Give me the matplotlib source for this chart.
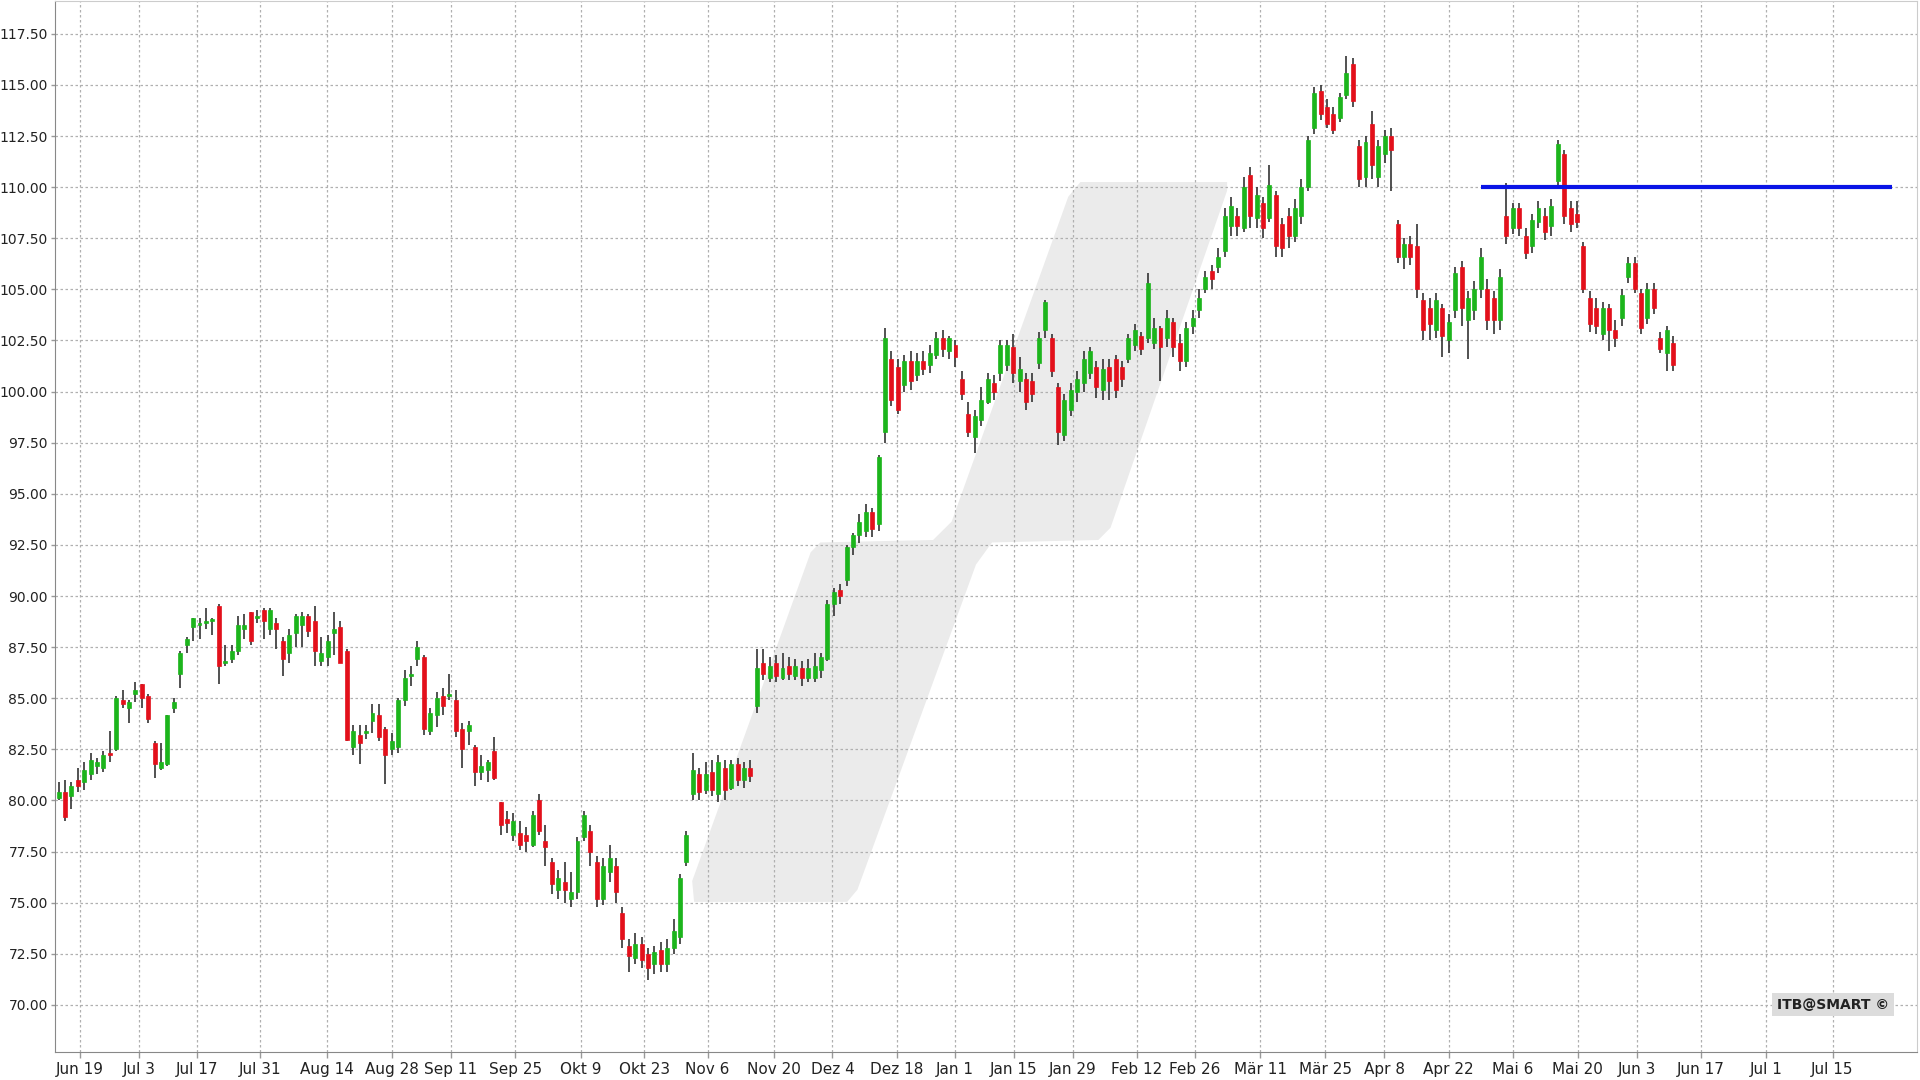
import matplotlib
matplotlib.use("Agg")
import matplotlib.pyplot as plt
from matplotlib.patches import Polygon

# daily candles (trading-day index 0..n-1)
opens = [80.1, 80.4, 80.2, 81.0, 80.9, 81.3, 81.7, 81.6, 82.3, 82.5,
         84.9, 84.5, 85.2, 85.7, 85.1, 82.8, 81.6, 81.8, 84.5, 86.2,
         87.6, 88.5, 88.6, 88.7, 88.8, 89.5, 86.7, 86.9, 87.3, 88.4,
         89.2, 88.9, 89.3, 88.4, 88.7, 87.8, 87.2, 88.2, 88.6, 89.0,
         88.8, 86.8, 87.0, 88.2, 88.5, 87.3, 82.6, 83.2, 83.3, 83.9,
         84.2, 83.5, 82.5, 82.6, 84.9, 86.1, 86.9, 87.0, 83.4, 84.2,
         85.1, 85.1, 84.9, 83.5, 83.4, 82.6, 81.4, 81.5, 82.4, 79.9,
         79.1, 78.3, 78.4, 78.3, 77.8, 80.0, 78.0, 77.0, 75.6, 76.0,
         75.2, 75.5, 78.2, 78.5, 77.0, 75.2, 76.5, 76.8, 74.5, 72.9,
         72.3, 73.0, 72.5, 72.0, 72.7, 72.0, 72.8, 73.3, 77.0, 80.3,
         81.3, 80.5, 81.4, 80.3, 81.6, 80.6, 81.8, 81.0, 81.6,
         84.6, 86.7, 86.0, 86.7,
         86.0, 86.6, 86.1, 86.5, 86.0, 86.0, 86.4, 86.9, 89.6, 90.3, 90.8,
         92.4, 93.0, 93.2, 94.1, 93.5, 98.0, 101.6, 101.2, 100.3, 101.5,
         100.8, 101.5, 101.3, 101.8, 102.6, 102.0, 102.3, 100.6, 98.9, 97.8,
         98.6, 99.5, 100.4, 100.9, 101.3, 102.2, 100.5, 100.6, 100.5, 101.4,
         103.0, 102.6, 100.2, 97.9, 99.1, 100.0, 100.4, 100.9, 101.2, 100.1,
         101.2, 101.6, 101.2, 101.6, 102.3, 102.7, 102.6, 102.4, 103.1, 102.6,
         103.4, 102.4, 101.5, 103.2, 104.0, 105.0, 105.9, 106.1,
         106.9, 108.1, 108.6, 108.0, 110.6, 108.5, 109.2, 108.5, 109.6,
         108.2, 108.6, 107.6, 108.6, 110.0, 112.9, 114.7, 113.9, 113.6, 113.4,
         114.5, 116.0, 112.0, 110.5, 113.1, 110.5, 111.6, 112.5, 108.2, 106.6,
         107.2, 107.1, 104.5, 104.1, 103.0, 104.1, 102.5, 104.0, 106.1, 103.5,
         104.0, 105.0, 105.0, 104.6, 103.5, 108.6, 108.0, 109.0, 107.6, 107.1,
         108.3, 108.6, 108.1, 110.3, 111.6, 109.0, 108.7, 107.1, 104.6,
         104.1, 102.8, 104.1, 103.0, 103.6, 105.6, 106.3, 104.8, 103.6, 105.0,
         102.6, 101.9, 102.4]
closes = [80.4, 79.2, 80.7, 80.7, 81.5, 82.0, 81.9, 82.2, 82.2, 85.0,
          84.7, 84.8, 85.4, 85.0, 84.0, 81.8, 81.9, 84.2, 84.8, 87.2,
          87.9, 88.9, 88.7, 88.8, 88.8, 86.6, 86.8, 87.3, 88.6, 88.6,
          87.8, 89.0, 88.8, 89.3, 88.4, 86.9, 88.1, 89.0, 89.0, 88.3,
          87.3, 87.2, 87.8, 88.4, 86.7, 82.95, 83.4, 82.8, 83.4, 84.3,
          83.1, 82.2, 82.9, 84.9, 86.0, 86.2, 87.5, 83.5, 84.3, 85.0,
          84.6, 85.2, 83.4, 82.5, 83.7, 81.4, 81.7, 81.9, 81.1, 78.8,
          78.9, 79.0, 77.8, 78.0, 79.3, 78.5, 77.7, 75.9, 76.2, 75.6,
          75.5, 78.0, 79.3, 77.5, 75.2, 76.8, 77.2, 75.5, 73.2, 72.4,
          73.0, 72.2, 71.8, 72.6, 72.0, 72.8, 73.6, 76.2, 78.3, 81.5,
          80.4, 81.3, 80.5, 81.9, 80.5, 81.8, 81.0, 81.6, 81.2,
          86.5, 86.2, 86.6, 86.1,
          86.5, 86.2, 86.6, 86.0, 86.5, 86.6, 87.0, 89.6, 90.2, 90.0, 92.4,
          93.0, 93.6, 94.1, 93.3, 96.8, 102.6, 99.6, 99.1, 101.5, 100.5,
          101.5, 101.1, 101.9, 102.6, 102.1, 102.6, 101.7, 99.9, 98.0, 98.8,
          99.6, 100.6, 100.0, 102.3, 102.3, 100.9, 101.1, 99.5, 99.9, 102.6,
          104.4, 101.0, 98.0, 99.6, 100.1, 100.6, 101.6, 102.0, 100.2, 101.1,
          100.5, 100.1, 100.6, 102.6, 103.0, 102.1, 105.3, 103.1, 102.2, 103.6,
          102.2, 101.5, 103.1, 103.6, 104.6, 105.6, 105.5, 106.6,
          108.6, 109.1, 108.1, 110.0, 108.6, 109.6, 108.0, 110.1, 107.1,
          107.0, 107.6, 109.0, 110.0, 112.3, 114.6, 113.6, 113.1, 112.8, 114.4,
          115.6, 114.2, 110.4, 112.2, 111.1, 112.0, 112.5, 111.8, 106.6, 107.2,
          106.6, 105.0, 103.0, 103.3, 104.5, 102.7, 103.4, 105.8, 104.1, 104.6,
          105.0, 106.6, 103.5, 103.5, 105.6, 107.6, 109.0, 108.0, 106.8, 108.4,
          109.0, 107.8, 109.1, 112.1, 108.6, 108.2, 108.3, 105.0, 103.3,
          103.2, 104.1, 103.0, 102.6, 104.7, 106.3, 105.0, 103.1, 105.0, 104.1,
          102.1, 103.0, 101.3]
highs = [80.9, 81.0, 80.9, 81.6, 81.9, 82.3, 82.1, 82.4, 83.4, 85.1,
         85.4, 84.9, 85.8, 85.7, 85.2, 82.9, 82.8, 84.2, 85.0, 87.3,
         88.0, 88.9, 88.9, 89.4, 88.9, 89.6, 87.6, 87.6, 89.0, 89.1,
         89.2, 89.3, 89.4, 89.4, 88.9, 88.0, 88.4, 89.1, 89.2, 89.1,
         89.5, 88.0, 88.1, 89.2, 88.8, 87.4, 83.7, 83.7, 83.7, 84.7,
         84.7, 83.6, 83.3, 85.0, 86.4, 86.6, 87.8, 87.1, 84.5, 85.3,
         85.5, 86.2, 85.4, 83.8, 83.9, 82.7, 82.2, 82.0, 83.1, 79.9,
         79.5, 79.4, 79.0, 78.7, 79.5, 80.3, 78.8, 77.2, 76.6, 77.0,
         76.5, 78.2, 79.5, 78.8, 77.3, 77.2, 77.8, 77.2, 74.8, 73.2,
         73.5, 73.3, 72.8, 72.9, 73.1, 73.2, 74.2, 76.4, 78.5, 82.3,
         81.6, 81.9, 82.0, 82.2, 82.0, 82.0, 82.1, 81.9, 82.0,
         87.4, 87.4, 87.0, 87.1,
         87.2, 87.0, 86.9, 86.8, 86.9, 87.2, 87.2, 89.8, 90.4, 90.6, 92.5,
         93.1, 94.0, 94.5, 94.3, 96.9, 103.1, 102.0, 101.6, 101.8, 102.0,
         101.9, 102.0, 102.3, 102.9, 103.0, 102.7, 102.5, 101.0, 99.5, 99.1,
         100.2, 100.9, 100.8, 102.5, 102.5, 102.8, 101.7, 100.9, 100.9, 102.9,
         104.5, 102.8, 100.4, 99.9, 100.4, 101.0, 102.0, 102.2, 101.5, 101.6,
         101.6, 101.8, 101.5, 102.8, 103.3, 102.9, 105.8, 103.6, 103.2, 104.0,
         103.6, 102.8, 103.4, 104.0, 105.0, 105.9, 106.2, 107.0,
         109.0, 109.5, 109.0, 110.5, 111.0, 110.0, 109.5, 111.1, 109.8,
         108.5, 109.0, 109.4, 110.4, 112.5, 114.9, 115.0, 114.3, 113.9, 114.6,
         116.4, 116.3, 112.3, 112.5, 113.7, 112.3, 112.8, 112.9, 108.4, 107.5,
         107.6, 108.2, 104.8, 104.6, 104.8, 104.3, 103.8, 106.1, 106.4, 104.9,
         105.4, 107.0, 105.5, 104.9, 106.0, 110.2, 109.2, 109.2, 108.0, 108.7,
         109.3, 109.0, 109.4, 112.3, 111.8, 109.3, 109.3, 107.3, 104.9,
         104.6, 104.4, 104.3, 103.5, 105.0, 106.6, 106.6, 105.0, 105.3, 105.3,
         102.9, 103.2, 102.7]
lows = [80.0, 79.0, 79.6, 80.4, 80.5, 81.0, 81.3, 81.4, 81.9, 82.4,
        84.5, 83.8, 84.8, 84.5, 83.8, 81.1, 81.5, 81.7, 84.3, 85.5,
        87.2, 87.8, 87.9, 88.4, 88.1, 85.7, 86.6, 86.7, 87.1, 87.9,
        87.6, 88.7, 87.9, 88.1, 87.4, 86.1, 86.7, 87.5, 87.5, 88.0,
        86.6, 86.6, 86.6, 87.1, 86.7, 82.9, 82.2, 81.8, 83.0, 83.3,
        82.9, 80.8, 82.2, 82.3, 84.6, 85.6, 86.6, 83.2, 83.2, 83.6,
        84.2, 84.9, 83.1, 81.6, 82.7, 80.7, 81.0, 80.9, 81.0, 78.3,
        78.4, 78.0, 77.6, 77.5, 77.7, 78.3, 76.8, 75.4, 75.2, 75.0,
        74.8, 75.2, 78.0, 76.8, 74.8, 74.9, 76.0, 75.0, 72.8, 71.6,
        72.0, 71.8, 71.2, 71.5, 71.6, 71.6, 72.5, 73.0, 76.8, 80.0,
        80.0, 80.3, 80.2, 79.9, 80.0, 80.5, 80.7, 80.6, 80.9,
        84.3, 85.9, 85.8, 85.8,
        85.9, 85.9, 85.9, 85.6, 85.8, 85.8, 86.0, 86.8, 89.0, 89.6, 90.5,
        92.0, 92.6, 92.9, 92.9, 93.2, 97.5, 99.3, 98.9, 100.0, 100.1,
        100.5, 100.8, 100.9, 101.6, 101.7, 101.6, 101.2, 99.6, 97.8, 97.0,
        98.3, 99.4, 99.6, 100.5, 101.0, 100.4, 100.0, 99.1, 99.5, 101.1,
        102.6, 100.7, 97.4, 97.6, 98.8, 99.5, 100.0, 100.6, 99.7, 99.6,
        99.6, 99.7, 100.2, 101.4, 102.0, 101.8, 102.4, 102.1, 100.5, 102.2,
        101.7, 101.0, 101.2, 102.8, 103.6, 104.8, 105.0, 105.8,
        106.6, 107.6, 107.6, 107.8, 108.0, 108.0, 107.5, 108.3, 106.6,
        106.6, 107.0, 107.3, 108.2, 109.8, 112.6, 113.3, 112.9, 112.6, 113.2,
        114.3, 113.9, 110.0, 110.0, 110.4, 110.0, 111.2, 109.8, 106.3, 106.0,
        106.2, 104.6, 102.5, 102.5, 102.6, 101.7, 101.9, 103.6, 103.2, 101.6,
        103.5, 104.6, 103.0, 102.8, 103.0, 107.2, 107.7, 107.6, 106.5, 106.8,
        108.0, 107.4, 107.6, 110.0, 108.2, 107.8, 108.0, 104.8, 102.9,
        102.8, 102.5, 102.0, 102.2, 103.2, 105.3, 104.8, 102.8, 103.3, 103.8,
        101.9, 101.0, 101.0]

tick_labels = ["Jun 19", "Jul 3", "Jul 17", "Jul 31", "Aug 14", "Aug 28", "Sep 11",
               "Sep 25", "Okt 9", "Okt 23", "Nov 6", "Nov 20", "Dez 4", "Dez 18",
               "Jan 1", "Jan 15", "Jan 29", "Feb 12", "Feb 26", "Mär 11", "Mär 25",
               "Apr 8", "Apr 22", "Mai 6", "Mai 20", "Jun 3", "Jun 17", "Jul 1", "Jul 15"]
tick_pos = [3.3, 12.6, 21.6, 31.5, 41.9, 52.0, 61.2, 71.3, 81.5, 91.4, 101.3,
            111.7, 120.8, 130.8, 139.9, 149.1, 158.3, 168.3, 177.4, 187.6, 197.7,
            206.9, 217.0, 227.0, 237.1, 246.4, 256.4, 266.5, 276.9]

resistance = 110.0

# background logo shape (index, price)
logo_x = [99.2, 123.1, 124.7, 143.2, 145.7, 162.3, 164.2, 182.4, 182.4,
          159.5, 157.6, 139.4, 136.5, 118.9, 117.4, 98.9]
logo_y = [75.04, 75.04, 75.64, 91.54, 92.62, 92.74, 93.34, 109.83, 110.25,
          110.25, 109.53, 93.64, 92.74, 92.62, 92.14, 76.06]

fig = plt.figure(figsize=(19.2, 10.8), dpi=100)
ax = fig.add_axes([0.0285, 0.026, 0.970, 0.973])

ax.add_patch(Polygon(list(zip(logo_x, logo_y)), closed=True, facecolor="#ebebeb",
                     edgecolor="none", zorder=0))

green, red = "#1cb51c", "#e3101b"
for i in range(len(opens)):
    o, c, h, l = opens[i], closes[i], highs[i], lows[i]
    col = green if c >= o else red
    ax.vlines(i, l, h, color="#333333", linewidth=1.2, zorder=2)
    bot = min(o, c)
    ht = max(abs(c - o), 0.08)
    ax.bar(i, ht, bottom=bot, width=0.62, color=col, edgecolor=col,
           linewidth=0.5, zorder=3)

ax.hlines(resistance, 222.0, 286.2, color="#0a14e6", linewidth=3, zorder=4)

ax.set_xlim(-0.6, 290.1)
ax.set_ylim(67.7, 119.1)
ax.set_yticks([70 + 2.5 * k for k in range(20)])
ax.yaxis.set_major_formatter(plt.FuncFormatter(lambda v, p: f"{v:.2f}"))
ax.set_xticks(tick_pos)
ax.set_xticklabels(tick_labels)
ax.tick_params(axis="x", labelsize=11, colors="#999999", labelcolor="#222222",
               length=4, width=1)
ax.tick_params(axis="y", labelsize=10, colors="#999999", labelcolor="#222222",
               length=3, width=1, pad=2)
ax.grid(True, color="#b0b0b0", linestyle=(0, (2, 2)), linewidth=0.9)
ax.set_axisbelow(True)
for s in ["top", "right"]:
    ax.spines[s].set_color("#cccccc")
for s in ["left", "bottom"]:
    ax.spines[s].set_color("#888888")

ax.text(0.985, 0.045, "ITB@SMART \u00a9", transform=ax.transAxes, ha="right", va="center",
        fontsize=10, fontweight="bold", color="#222222",
        bbox=dict(boxstyle="square,pad=0.35", facecolor="#dcdcdc", edgecolor="none"))

fig.savefig("out.png", dpi=100)
